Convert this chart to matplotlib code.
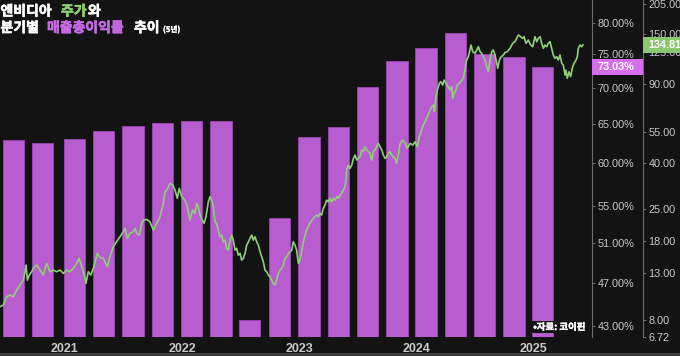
import matplotlib
matplotlib.use('Agg')
import matplotlib.pyplot as plt
import matplotlib.patheffects as pe
from matplotlib.ticker import FixedLocator, FuncFormatter, NullLocator
from matplotlib.transforms import blended_transform_factory, ScaledTranslation
from matplotlib.patches import Rectangle

# --- data ---
# fiscal quarter ends in decimal years, GAAP gross margin in %
quarter_end = [2020.56, 2020.81, 2021.08, 2021.33, 2021.58, 2021.83, 2022.08, 2022.33, 2022.575,
               2022.83, 2023.08, 2023.335, 2023.58, 2023.83, 2024.08, 2024.33, 2024.58, 2024.83, 2025.075]
gross_margin = [63.0, 62.6, 63.1, 64.1, 64.8, 65.2, 65.4, 65.5, 43.5,
                53.6, 63.3, 64.6, 70.1, 74.0, 76.0, 78.4, 75.1, 74.6, 73.03]

# share price (USD, split adjusted)
price_t = [2020.446, 2020.474, 2020.503, 2020.531, 2020.559, 2020.588, 2020.617, 2020.645, 2020.659, 2020.668,
           2020.679, 2020.696, 2020.716, 2020.730, 2020.759, 2020.787, 2020.815, 2020.844, 2020.872, 2020.900,
           2020.929, 2020.958, 2020.986, 2021.015, 2021.043, 2021.071, 2021.100, 2021.120, 2021.143, 2021.162,
           2021.179, 2021.199, 2021.220, 2021.242, 2021.276, 2021.299,
           2021.327, 2021.361, 2021.384, 2021.412, 2021.441, 2021.469, 2021.497, 2021.512, 2021.532, 2021.555,
           2021.583, 2021.597, 2021.612, 2021.634, 2021.655, 2021.668, 2021.697, 2021.725, 2021.754, 2021.782,
           2021.811, 2021.839, 2021.853, 2021.868, 2021.896, 2021.919, 2021.939, 2021.958, 2021.975, 2021.996,
           2022.024, 2022.044, 2022.066, 2022.089, 2022.109, 2022.124, 2022.137, 2022.152, 2022.166, 2022.186,
           2022.203, 2022.223, 2022.237, 2022.252, 2022.265, 2022.280, 2022.294, 2022.308, 2022.322, 2022.337,
           2022.350, 2022.365, 2022.379, 2022.393, 2022.408, 2022.422, 2022.436, 2022.450, 2022.465, 2022.478,
           2022.493, 2022.507, 2022.521, 2022.536, 2022.550, 2022.564, 2022.578, 2022.593, 2022.606, 2022.621,
           2022.635, 2022.649, 2022.664, 2022.678, 2022.692, 2022.706, 2022.721, 2022.734, 2022.749, 2022.763,
           2022.777, 2022.791, 2022.806, 2022.820, 2022.834, 2022.849, 2022.862, 2022.877, 2022.891, 2022.905,
           2022.919, 2022.934, 2022.947, 2022.962, 2022.976, 2022.990, 2023.004, 2023.019, 2023.033, 2023.047,
           2023.061, 2023.089, 2023.118, 2023.147, 2023.160, 2023.175, 2023.189, 2023.203, 2023.218, 2023.232,
           2023.246, 2023.260, 2023.275, 2023.289, 2023.303, 2023.318, 2023.332, 2023.346, 2023.360, 2023.374,
           2023.388, 2023.397, 2023.403, 2023.417, 2023.431, 2023.446, 2023.460, 2023.474, 2023.488, 2023.502,
           2023.516, 2023.531, 2023.545, 2023.559, 2023.574, 2023.587, 2023.602, 2023.616, 2023.630, 2023.644,
           2023.659, 2023.673, 2023.687, 2023.702, 2023.715, 2023.730, 2023.744, 2023.758, 2023.772, 2023.787,
           2023.800, 2023.815, 2023.829, 2023.843, 2023.857, 2023.880, 2023.900, 2023.920, 2023.943, 2023.966,
           2023.986, 2024.005, 2024.022, 2024.034, 2024.051, 2024.071, 2024.091, 2024.108, 2024.128, 2024.142,
           2024.150, 2024.165, 2024.176, 2024.193, 2024.205, 2024.222, 2024.233, 2024.250, 2024.270, 2024.284,
           2024.299, 2024.307, 2024.318, 2024.335, 2024.346, 2024.363, 2024.384, 2024.397, 2024.412, 2024.426,
           2024.440, 2024.454, 2024.463, 2024.478, 2024.497, 2024.512, 2024.526, 2024.540, 2024.554, 2024.568,
           2024.583, 2024.597, 2024.611, 2024.625, 2024.640, 2024.653, 2024.668, 2024.682, 2024.691, 2024.705,
           2024.719, 2024.739, 2024.753, 2024.773, 2024.796, 2024.819, 2024.838, 2024.853, 2024.867, 2024.887,
           2024.904, 2024.915, 2024.932, 2024.952, 2024.972, 2024.989, 2025.009, 2025.023, 2025.037, 2025.052,
           2025.066, 2025.080, 2025.094, 2025.109, 2025.122, 2025.137, 2025.151, 2025.165, 2025.179, 2025.194,
           2025.208, 2025.222, 2025.237, 2025.250, 2025.265, 2025.273, 2025.284, 2025.299, 2025.313, 2025.330,
           2025.342, 2025.359, 2025.370, 2025.378, 2025.393, 2025.407, 2025.418]
price = [9.17, 9.33, 10.16, 10.34, 10.16, 10.88, 11.45, 12.05, 13.13, 14.06,
         12.05, 12.69, 13.13, 13.59, 14.06, 13.36, 12.69, 14.31, 13.13, 13.36,
         13.13, 13.36, 12.91, 13.36, 13.13, 13.59, 14.31, 15.06, 13.82, 12.91,
         11.65, 13.13, 12.69, 13.59, 15.85, 15.18,
         15.06, 13.82, 15.31, 16.96, 17.86, 18.80, 19.79, 20.49, 18.49, 19.47,
         19.79, 20.49, 19.47, 19.13, 21.57, 22.31, 22.47, 21.92, 20.14, 21.57,
         23.09, 26.48, 29.85, 30.37, 32.53, 31.97, 30.37, 27.89, 30.90, 28.35,
         27.40, 25.58, 22.31, 24.73, 23.90, 26.48, 25.58, 23.49, 22.55, 21.57,
         23.09, 26.93, 28.35, 27.40, 25.58, 21.92, 21.57, 20.14, 18.80, 19.13,
         17.86, 18.17, 16.69, 16.40, 18.17, 19.13, 18.17, 16.40, 16.69, 15.58,
         15.85, 14.80, 15.06, 15.85, 17.26, 17.86, 18.49, 19.13, 18.17, 18.80,
         17.86, 17.26, 16.12, 15.31, 14.54, 13.36, 13.13, 12.69, 12.47, 12.05,
         11.65, 11.45, 12.05, 12.91, 13.36, 13.59, 14.06, 15.06, 15.31, 15.85,
         16.12, 16.40, 17.86, 17.26, 16.40, 14.31, 14.80, 16.12, 17.86, 18.93,
         20.14, 21.57, 22.70, 23.49, 23.09, 23.90, 23.49, 25.16, 26.03, 27.40,
         26.93, 27.89, 26.93, 27.89, 27.40, 28.35, 27.89, 28.85, 29.36, 30.37,
         31.42, 33.65, 37.29, 39.25, 37.94, 39.25, 42.04, 43.50, 41.32, 42.04,
         42.75, 45.79, 45.00, 47.37, 45.79, 45.00, 44.26, 41.32, 45.00, 45.79,
         47.37, 49.05, 47.37, 45.79, 43.50, 42.04, 42.75, 44.26, 45.00, 43.50,
         42.75, 42.04, 39.94, 43.50, 48.70, 50.74, 49.20, 46.59, 49.05, 48.20,
         49.86, 47.37, 52.49, 54.35, 58.17, 61.23, 64.46, 67.84, 71.43, 72.68,
         67.84, 79.14, 84.77, 90.80, 92.31, 89.23, 93.94, 90.80, 87.70, 84.77,
         87.70, 77.84, 81.94, 84.77, 89.23, 90.80, 93.94, 95.59, 104.10, 115.36,
         119.34, 127.83, 134.55, 125.62, 123.56, 127.83, 132.24, 125.62, 123.56, 119.34,
         115.36, 107.69, 102.30, 115.36, 125.62, 127.83, 121.43, 111.51, 105.92, 115.36,
         118.94, 121.43, 124.58, 125.62, 130.07, 136.93, 139.21, 144.14, 149.11, 146.55,
         144.14, 146.55, 136.93, 141.66, 134.58, 132.25, 146.55, 139.21, 144.14, 146.55,
         136.93, 130.07, 134.58, 132.25, 136.93, 139.21, 130.07, 121.43, 117.38, 119.34,
         115.36, 121.43, 111.51, 109.59, 98.90, 104.10, 95.59, 102.30, 97.19, 107.69,
         111.51, 115.36, 119.34, 130.07, 134.58, 132.25, 134.81]

years = [2021, 2022, 2023, 2024, 2025]
pct_ticks = [43, 47, 51, 55, 60, 65, 70, 75, 80]
price_ticks = [6.72, 8, 13, 18, 25, 40, 55, 90, 125, 150, 205]

# --- style ---
BG = '#131313'
BAR = '#b85dd0'
LINE = '#8fd077'
PINK = '#d66ded'
GREEN_TAG = '#8cc874'
TICK = '#c9c9c9'
SPINE = '#6e6e6e'
KFONT = ['Noto Sans CJK KR', 'DejaVu Sans']
W, H = 680, 356

fig = plt.figure(figsize=(6.8, 3.56), dpi=100, facecolor=BG)
ax = fig.add_axes([0, 19 / H, 592 / W, 337 / H])
ax.set_facecolor(BG)

# bars: gross margin on log percent axis
ax.bar(quarter_end, gross_margin, width=0.183, log=True, color=BAR,
       edgecolor='#9c45b6', linewidth=0.6, zorder=2)
ax.set_ylim(42.04, 83.86)
ax.set_xlim(2020.446, 2025.495)

# price line on second log axis
ax2 = ax.twinx()
ax2.plot(price_t, price, color=LINE, linewidth=1.2, zorder=3)
ax2.set_yscale('log')
ax2.set_ylim(6.72, 213.6)

# percent axis on the right (twinx moves it left, so set it after)
ax.yaxis.tick_right()
ax.yaxis.set_label_position('right')
ax.yaxis.set_major_locator(FixedLocator(pct_ticks))
ax.yaxis.set_minor_locator(NullLocator())
ax.yaxis.set_major_formatter(FuncFormatter(lambda v, p: f'{v:.2f}%'))
ax.tick_params(axis='y', which='both', left=False, labelleft=False, right=True, labelright=True,
               length=2, width=0.7, color=SPINE, pad=2, labelsize=7.8, labelcolor=TICK)
for lab in ax.get_yticklabels():
    lab.set_family('Liberation Sans')

ax.set_xticks(years)
ax.set_xticklabels([str(y) for y in years])
ax.xaxis.set_minor_locator(NullLocator())
ax.tick_params(axis='x', length=0, pad=4, labelsize=9, labelcolor=TICK)
for lab in ax.get_xticklabels():
    lab.set_family('Liberation Sans')
    lab.set_fontweight('bold')

for a in (ax, ax2):
    for side in ['top', 'left', 'bottom']:
        a.spines[side].set_visible(False)
    a.spines['right'].set_color(SPINE)
    a.spines['right'].set_linewidth(0.8)

ax2.spines['right'].set_position(('axes', 643 / 592))
ax2.yaxis.set_major_locator(FixedLocator(price_ticks))
ax2.yaxis.set_minor_locator(NullLocator())
ax2.yaxis.set_major_formatter(FuncFormatter(lambda v, p: f'{v:.2f}'))
ax2.tick_params(axis='y', which='both', length=2, width=0.7, color=SPINE, pad=2,
                labelsize=7.8, labelcolor=TICK)
for lab in ax2.get_yticklabels():
    lab.set_family('Liberation Sans')

# last value tags on the axes
pct_anchor = ScaledTranslation(1.0, gross_margin[-1], blended_transform_factory(ax.transAxes, ax.transData))
fig.add_artist(Rectangle((0, -8), 51, 16, transform=pct_anchor, facecolor=PINK, edgecolor='none', zorder=5))
fig.text(5, 0, f'{gross_margin[-1]:.2f}%', transform=pct_anchor, color='white', fontsize=7.8,
         fontweight='bold', family='Liberation Sans', va='center', ha='left', zorder=6)

price_anchor = ScaledTranslation(643 / 592, price[-1], blended_transform_factory(ax2.transAxes, ax2.transData))
fig.add_artist(Rectangle((0, -8), 50, 16, transform=price_anchor, facecolor=GREEN_TAG, edgecolor='none', zorder=5))
fig.text(5, 0, f'{price[-1]:.2f}', transform=price_anchor, color='white', fontsize=7.8,
         fontweight='bold', family='Liberation Sans', va='center', ha='left', zorder=6)

# title, coloured words placed along each line; a thin stroke makes the CJK face heavier
title_1 = [('엔비디아', 'white', 10, 0.5), ('주가', LINE, 10, 61), ('와', 'white', 10, 88)]
title_2 = [('분기별', 'white', 10, 0.5), ('매출총이익률', '#c46ae2', 10, 47), ('추이', 'white', 10, 134),
           ('(5년)', 'white', 5.5, 163)]
for parts, base in ((title_1, 15.5), (title_2, 32)):
    for s, c, size, x in parts:
        fig.text(x / W, 1 - base / H, s, color=c, fontsize=size, fontweight='bold', family=KFONT,
                 va='baseline', ha='left', zorder=7,
                 path_effects=[pe.withStroke(linewidth=0.45 if size > 6 else 0.25, foreground=c)])

fig.text(585 / W, 1 - 327 / H, '•자료: 코이핀', color='white', fontsize=6.8, fontweight='bold',
         family=KFONT, ha='right', va='center', zorder=7,
         path_effects=[pe.withStroke(linewidth=0.3, foreground='white')],
         bbox=dict(boxstyle='square,pad=0.15', facecolor=BG, edgecolor='none'))

# thin grey edge along the bottom of the picture
fig.add_artist(Rectangle((0, 0), 1, 3 / H, transform=fig.transFigure, facecolor='#3d3d3d',
                         edgecolor='none', zorder=1))

fig.savefig('out.png', dpi=100, facecolor=BG)
